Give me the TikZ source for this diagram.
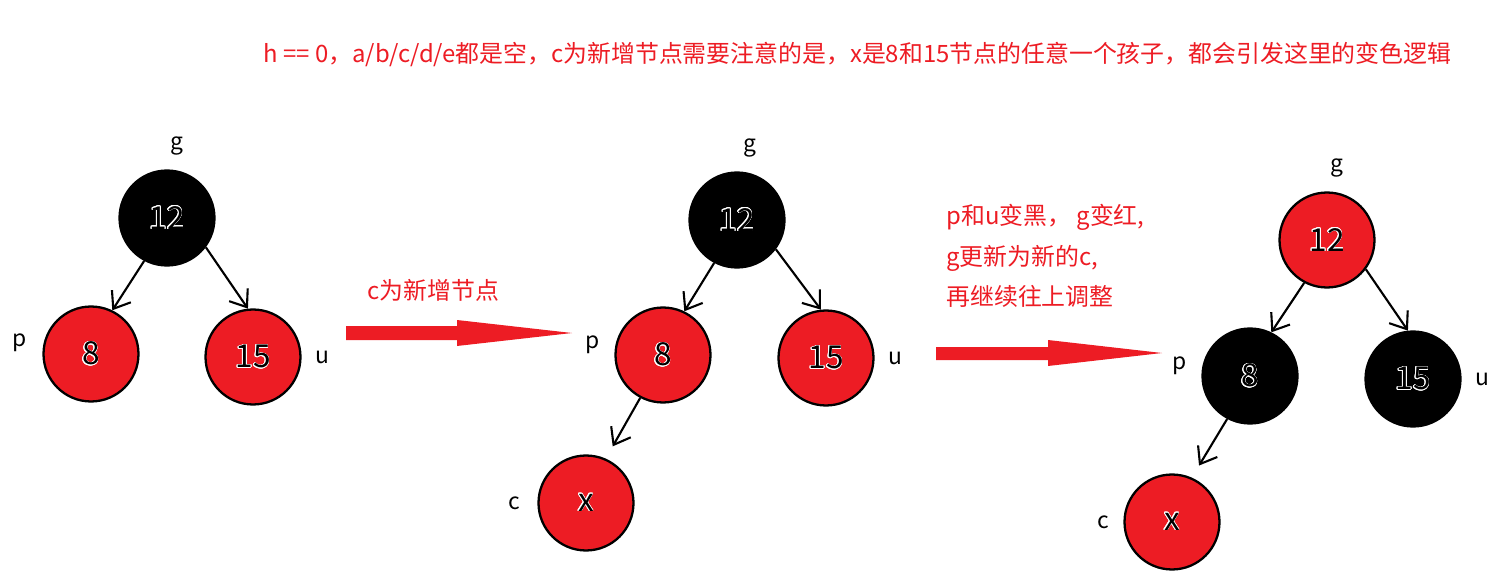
\documentclass[tikz,border=0pt]{standalone}
\usepackage{fontspec}
\setmainfont{Noto Sans CJK SC}
\usepackage{contour}
\contourlength{0.4pt}
\usetikzlibrary{arrows.meta}
\definecolor{rbred}{HTML}{ED1C24}

\begin{document}
\begin{tikzpicture}[x=0.02cm, y=-0.02cm, label distance=0.15cm,
		rbnode/.style={circle, draw, line width=1.3pt, minimum size=1.9cm, inner sep=0pt, font=\fontsize{18}{18}\selectfont},
		rednode/.style={rbnode, fill=rbred}, blacknode/.style={rbnode, fill=black},
		tag/.style={font=\fontsize{13}{13}\selectfont, inner sep=1pt},
		note/.style={font=\fontsize{13.6}{23}\selectfont, text=rbred, inner sep=0pt, align=left},
		link/.style={-{Straight Barb[length=3mm, width=4.5mm]}, line width=1.2pt},
		bigarrow/.style={fill=rbred}]
		\useasboundingbox (0,0) rectangle (1509,581);
		% before
		\node[blacknode, label={[tag, xshift=0.2cm, yshift=0.1cm]above:g}] (g1) at (167, 218) {\contour{white}{12}};
		\node[rednode, label={[tag, xshift=-0.12cm, yshift=0.22cm]left:p}] (p1) at (91, 354) {\contour{white}{8}};
		\node[rednode, label={[tag, xshift=0.08cm]right:u}] (u1) at (253, 357) {\contour{white}{15}};
		\draw[link] (g1.-118) -- (p1.64);
		\draw[link] (g1.-37) -- (u1.96);
		% insert c
		\node[note, anchor=west] (title) at (263, 54) {h == 0，a/b/c/d/e都是空，c为新增节点需要注意的是，x是8和15节点的任意一个孩子，都会引发这里的变色逻辑};
		\node[note, anchor=west] (step1) at (367, 290) {c为新增节点};
		\fill[bigarrow] (346,326) -- (457,326) -- (457,320) -- (572,333) -- (457,346) -- (457,340) -- (346,340) -- cycle;
		\node[blacknode, label={[tag, xshift=0.25cm, yshift=0.1cm]above:g}] (g2) at (737, 220) {\contour{white}{12}};
		\node[rednode, label={[tag, xshift=-0.1cm, yshift=0.2cm]left:p}] (p2) at (663, 355) {\contour{white}{8}};
		\node[rednode, label={[tag, xshift=0.08cm]right:u}] (u2) at (826, 358) {\contour{white}{15}};
		\node[rednode, label={[tag, xshift=-0.15cm]left:c}] (c2) at (586, 503) {\contour{white}{x}};
		\draw[link] (g2.-118) -- (p2.64);
		\draw[link] (g2.-37) -- (u2.96);
		\draw[link, shorten >=8pt] (p2.-118) -- (c2.66);
		% recolor
		\node[note, anchor=north west] (step2) at (946, 204) {p和u变黑， g变红,\\g更新为新的c,\\再继续往上调整};
		\fill[bigarrow] (936,347) -- (1048,347) -- (1048,340) -- (1162,353) -- (1048,366) -- (1048,360) -- (936,360) -- cycle;
		\node[rednode, label={[tag, xshift=0.2cm, yshift=0.1cm]above:g}] (g3) at (1327, 240) {\contour{white}{12}};
		\node[blacknode, label={[tag, xshift=-0.1cm, yshift=0.2cm]left:p}] (p3) at (1250, 376) {\contour{white}{8}};
		\node[blacknode, label={[tag, xshift=0.08cm]right:u}] (u3) at (1413, 379) {\contour{white}{15}};
		\node[rednode, label={[tag, xshift=-0.1cm]left:c}] (c3) at (1172, 522) {\contour{white}{x}};
		\draw[link] (g3.-118) -- (p3.64);
		\draw[link] (g3.-37) -- (u3.96);
		\draw[link, shorten >=8pt] (p3.-118) -- (c3.66);
	\end{tikzpicture}
\end{document}
